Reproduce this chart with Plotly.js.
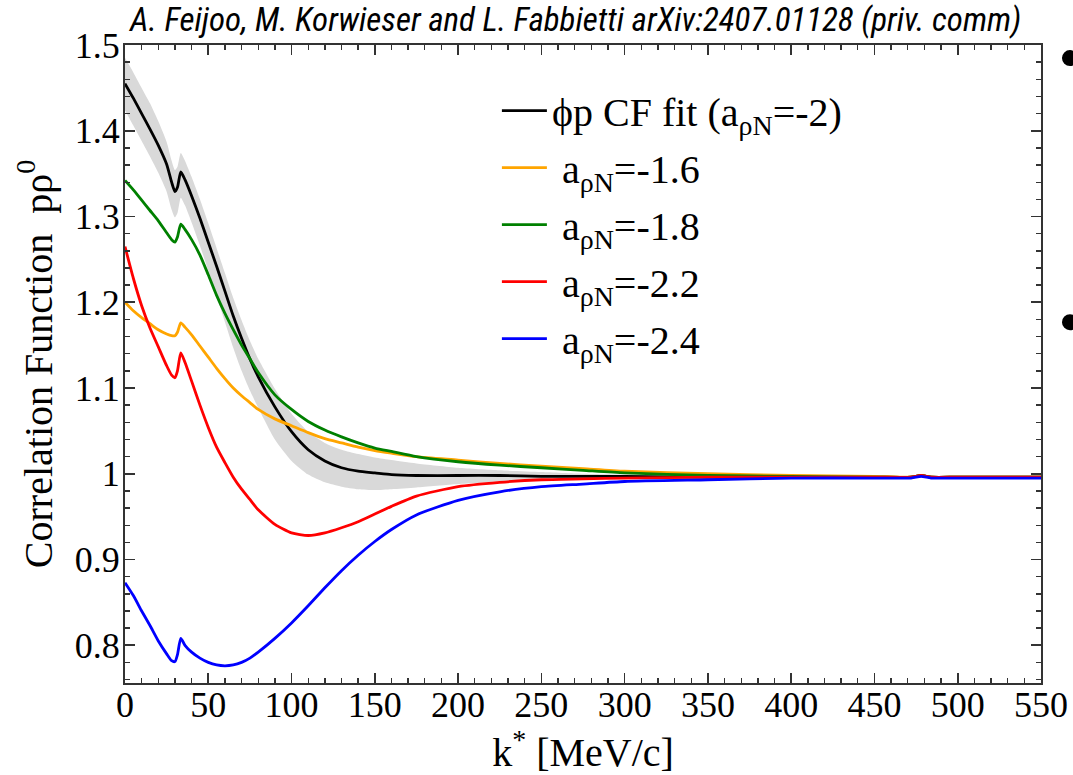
<!DOCTYPE html>
<html>
<head>
<meta charset="utf-8">
<script src="https://cdn.plot.ly/plotly-3.0.1.min.js"></script>
<style>
html,body{margin:0;padding:0;background:#fff;}
#chart{width:1073px;height:775px;}
</style>
</head>
<body>
<div id="chart"></div>
<script>
// k* [MeV/c]
const k = [0, 5, 10, 15, 20, 25, 28, 30, 31.5, 33.5, 36, 40, 45, 50, 55, 60, 65, 70, 75, 80, 90, 100, 110, 120, 130, 140, 150, 160, 175, 200, 225, 250, 275, 300, 350, 400, 450, 472, 478, 484, 500, 550];

// phi-p CF fit (a = -2) and its uncertainty band
const fitCF = [1.455, 1.438, 1.420, 1.402, 1.383, 1.361, 1.340, 1.329, 1.334, 1.352, 1.343, 1.324, 1.298, 1.270, 1.242, 1.213, 1.184, 1.158, 1.134, 1.113, 1.078, 1.049, 1.028, 1.015, 1.007, 1.003, 1.001, 0.999, 0.998, 0.998, 0.998, 0.997, 0.997, 0.997, 0.996, 0.996, 0.996, 0.996, 0.998, 0.996, 0.996, 0.996];
const fitUpper = [1.485, 1.468, 1.450, 1.432, 1.411, 1.387, 1.365, 1.354, 1.358, 1.374, 1.365, 1.346, 1.320, 1.292, 1.263, 1.234, 1.205, 1.179, 1.155, 1.134, 1.099, 1.070, 1.049, 1.036, 1.028, 1.023, 1.019, 1.016, 1.012, 1.007, 1.004, 1.002, 1.000, 0.999, 0.998, 0.997, 0.997, 0.997, 0.998, 0.997, 0.997, 0.997];
const fitLower = [1.424, 1.406, 1.388, 1.370, 1.351, 1.329, 1.308, 1.299, 1.304, 1.322, 1.313, 1.293, 1.266, 1.237, 1.207, 1.177, 1.147, 1.120, 1.097, 1.077, 1.040, 1.015, 0.999, 0.990, 0.985, 0.982, 0.981, 0.982, 0.984, 0.988, 0.991, 0.993, 0.994, 0.995, 0.995, 0.995, 0.995, 0.995, 0.997, 0.995, 0.995, 0.995];

// other scattering lengths
const cf16 = [1.200, 1.190, 1.182, 1.175, 1.168, 1.163, 1.161, 1.161, 1.165, 1.176, 1.171, 1.162, 1.149, 1.136, 1.123, 1.111, 1.100, 1.091, 1.083, 1.075, 1.064, 1.056, 1.048, 1.041, 1.036, 1.031, 1.027, 1.024, 1.020, 1.016, 1.012, 1.009, 1.006, 1.003, 1.000, 0.998, 0.997, 0.996, 0.998, 0.996, 0.996, 0.996];
const cf18 = [1.342, 1.331, 1.319, 1.307, 1.295, 1.281, 1.273, 1.270, 1.276, 1.291, 1.285, 1.273, 1.255, 1.232, 1.208, 1.187, 1.168, 1.150, 1.134, 1.118, 1.092, 1.075, 1.061, 1.051, 1.043, 1.036, 1.030, 1.026, 1.020, 1.014, 1.010, 1.007, 1.004, 1.001, 0.998, 0.997, 0.996, 0.996, 0.998, 0.996, 0.996, 0.996];
const cf22 = [1.265, 1.228, 1.196, 1.170, 1.148, 1.126, 1.115, 1.112, 1.120, 1.141, 1.130, 1.108, 1.080, 1.054, 1.031, 1.013, 0.996, 0.982, 0.970, 0.958, 0.941, 0.931, 0.928, 0.931, 0.937, 0.944, 0.953, 0.962, 0.974, 0.985, 0.990, 0.993, 0.994, 0.995, 0.996, 0.996, 0.996, 0.996, 0.998, 0.996, 0.996, 0.996];
const cf24 = [0.873, 0.858, 0.840, 0.823, 0.805, 0.790, 0.782, 0.781, 0.789, 0.808, 0.800, 0.792, 0.785, 0.780, 0.777, 0.776, 0.777, 0.780, 0.785, 0.792, 0.808, 0.826, 0.846, 0.867, 0.887, 0.905, 0.921, 0.935, 0.952, 0.969, 0.979, 0.985, 0.988, 0.991, 0.993, 0.995, 0.995, 0.995, 0.997, 0.995, 0.995, 0.995];

const legendNames = [
  "ϕp CF fit (a<sub>ρN</sub>=-2)",
  "\u00a0a<sub>ρN</sub>=-1.6",
  "\u00a0a<sub>ρN</sub>=-1.8",
  "\u00a0a<sub>ρN</sub>=-2.2",
  "\u00a0a<sub>ρN</sub>=-2.4"
];
const colors = ["#000000", "#ffa500", "#008000", "#ff0000", "#0000ff"];
const series = [fitCF, cf16, cf18, cf22, cf24];

const bandColor = "#d9d9d9";
const traces = [
  {x: k, y: fitLower, type: "scatter", mode: "lines", line: {width: 0, color: bandColor, shape: "spline", smoothing: 0.6}, showlegend: false, hoverinfo: "skip"},
  {x: k, y: fitUpper, type: "scatter", mode: "lines", line: {width: 0, color: bandColor, shape: "spline", smoothing: 0.6}, fill: "tonexty", fillcolor: bandColor, showlegend: false, hoverinfo: "skip"}
];
series.forEach((s, i) => {
  traces.push({x: k, y: s, type: "scatter", mode: "lines", name: legendNames[i],
    legendgroup: "g" + i, line: {color: colors[i], width: 2.8, shape: "spline", smoothing: 0.6}});
});

const serif = "Liberation Serif, Times New Roman, serif";
const tickFont = {family: serif, size: 36, color: "#000"};
const axisCommon = {
  showline: true, linecolor: "#333", linewidth: 2, mirror: "ticks",
  ticks: "inside", ticklen: 10, tickwidth: 1.6, tickcolor: "#333",
  showgrid: false, zeroline: false, tickfont: tickFont
};

const layout = {
  width: 1073, height: 775,
  margin: {l: 125, r: 32, t: 45, b: 92},
  paper_bgcolor: "#fff", plot_bgcolor: "#fff",
  title: {text: "<i>A. Feijoo, M. Korwieser and L. Fabbietti arXiv:2407.01128 (priv. comm)</i>",
    font: {family: "Liberation Sans Narrow, Roboto Condensed, DejaVu Sans Condensed, Roboto, sans-serif", size: 33, color: "#000"},
    x: 0.492, xref: "paper", xanchor: "center", y: 0.975, yref: "container", yanchor: "middle"},
  xaxis: Object.assign({}, axisCommon, {
    range: [0, 550], dtick: 50, tick0: 0, ticklabelstandoff: -11,
    minor: {dtick: 10, ticks: "inside", ticklen: 5, tickwidth: 1.4, tickcolor: "#333", showgrid: false},
    title: {text: "k<sup>*</sup> [MeV/c]", font: {family: serif, size: 40, color: "#000"}, standoff: 26}
  }),
  yaxis: Object.assign({}, axisCommon, {
    range: [0.756, 1.5], dtick: 0.1, tick0: 0, ticklabelstandoff: -4,
    minor: {dtick: 0.02, ticks: "inside", ticklen: 5, tickwidth: 1.4, tickcolor: "#333", showgrid: false},
    title: {text: "Correlation Function  pρ<sup>0</sup>", font: {family: serif, size: 40, color: "#000"}, standoff: 10}
  }),
  legend: {x: 0.406, y: 0.948, xanchor: "left", yanchor: "top", bgcolor: "rgba(0,0,0,0)",
    font: {family: serif, size: 40, color: "#000"},
    traceorder: "grouped", tracegroupgap: 2, itemwidth: 45},
  shapes: [
    {type: "circle", xref: "paper", yref: "paper", x0: 1.0229, x1: 1.0404, y0: 0.967, y1: 0.992, fillcolor: "#000", line: {width: 0}},
    {type: "circle", xref: "paper", yref: "paper", x0: 1.0229, x1: 1.0404, y0: 0.553, y1: 0.578, fillcolor: "#000", line: {width: 0}}
  ],
  showlegend: true
};

Plotly.newPlot("chart", traces, layout, {displayModeBar: false, staticPlot: true});
</script>
</body>
</html>
